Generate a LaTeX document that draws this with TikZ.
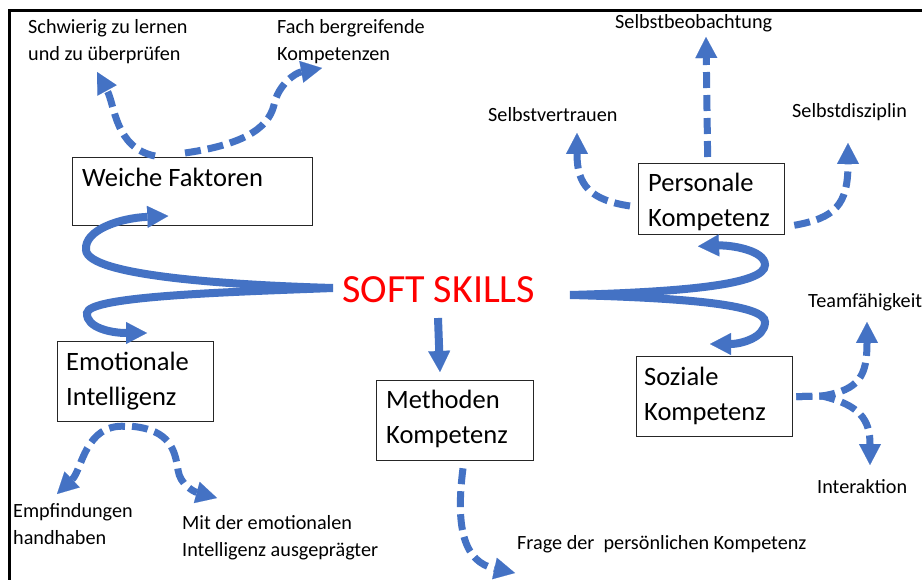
\documentclass[tikz,border=0pt]{standalone}
\usepackage{fontspec}
\setmainfont{Carlito}
\usetikzlibrary{arrows.meta}
\definecolor{skillblue}{RGB}{68,114,196}
\definecolor{skillred}{RGB}{255,0,0}

\begin{document}
\begin{tikzpicture}[x=1pt,y=-1pt,
  box/.style={draw=black!85, line width=1.3pt, anchor=north west, inner sep=0pt},
  boxtext/.style={anchor=base west, inner sep=0pt, font=\fontsize{26.5}{35}\selectfont, align=left},
  note/.style={anchor=base west, inner sep=0pt, font=\fontsize{20.2}{27}\selectfont, align=left},
  solidarrow/.style={draw=skillblue, line width=8pt,
    -{Triangle[length=21pt,width=22pt,line width=0.1pt]}},
  dasharrow/.style={draw=skillblue, line width=7pt, dash pattern=on 16pt off 7pt,
    -{Triangle[length=21pt,width=22pt,line width=0.1pt]}},
]
\useasboundingbox (0,0) rectangle (922,580);
\fill[white] (0,0) rectangle (922,580);

% outer frame (open to the right and bottom)
\draw[line width=3pt] (9.5,585) -- (9.5,11) -- (930,11);

% central title
\node[anchor=base west, inner sep=0pt, text=skillred, font=\fontsize{40}{44}\selectfont] (ss) at (342,303) {SOFT SKILLS};
\coordinate (ssL) at (333,288);
\coordinate (ssR) at (570,295);
\coordinate (ssD) at (438,318);

% boxes
\node[box, minimum width=240pt, minimum height=68pt] (wf) at (72,157) {};
\node[box, minimum width=146pt, minimum height=71pt] (pk) at (638,163) {};
\node[box, minimum width=156pt, minimum height=80pt] (ei) at (57,341) {};
\node[box, minimum width=157pt, minimum height=80pt] (mk) at (376,380) {};
\node[box, minimum width=156pt, minimum height=80pt] (sk) at (636,356) {};

% box captions (anchored at the baseline of their last line)
\node[boxtext] (wft) at (82,187) {Weiche Faktoren};
\node[boxtext] (pkt) at (648,227) {Personale\\Kompetenz};
\node[boxtext] (eit) at (66,405) {Emotionale\\Intelligenz};
\node[boxtext] (mkt) at (386,443) {Methoden\\Kompetenz};
\node[boxtext] (skt) at (644,420) {Soziale\\Kompetenz};

% outer labels
\node[note] (n1) at (28,61) {Schwierig zu lernen\\und zu überprüfen};
\node[note] (n2) at (277,61) {Fach bergreifende\\Kompetenzen};
\node[note] (n3) at (615,29) {Selbstbeobachtung};
\node[note] (n4) at (488,122) {Selbstvertrauen};
\node[note] (n5) at (792,118) {Selbstdisziplin};
\node[note] (n6) at (808,308) {Teamfähigkeit};
\node[note] (n7) at (817,493) {Interaktion};
\node[note] (n8) at (517,549) {Frage der~ persönlichen Kompetenz};
\node[note] (n9) at (13,544) {Empfindungen\\handhaben};
\node[note] (n10) at (182,556) {Mit der emotionalen\\Intelligenz ausgeprägter};

% arrow tip positions next to the labels
\coordinate (t1) at (97,72);
\coordinate (t2) at (322,68);
\coordinate (t3) at (706,37);
\coordinate (t4) at (577,133);
\coordinate (t5) at (848,143);
\coordinate (t6) at (867,322);
\coordinate (t7) at (870,465);
\coordinate (t8) at (515,573);
\coordinate (t9) at (57,494);
\coordinate (t10) at (217,498);
\coordinate (fork) at (822,396);

% solid arrows from the title to the five areas
\draw[solidarrow] (ssL) .. controls (230,285) and (88,276) .. (86,250)
  .. controls (84,230) and (120,218) .. ([xshift=-145pt,yshift=-59pt]wf.north east);
\draw[solidarrow] (ssL) .. controls (230,292) and (88,296) .. (87,313)
  .. controls (86,328) and (112,333) .. ([xshift=90pt,yshift=8pt]ei.north west);
\draw[solidarrow] (ssR) .. controls (680,292) and (765,285) .. (765,265)
  .. controls (765,250) and (730,245) .. ([xshift=60pt,yshift=-11pt]pk.south west);
\draw[solidarrow] (ssR) .. controls (690,298) and (765,305) .. (765,322)
  .. controls (765,338) and (740,344) .. ([xshift=74pt,yshift=12pt]sk.north west);
\draw[solidarrow] (ssD) -- ([xshift=64pt,yshift=8pt]mk.north west);

% dashed arrows to the details
\draw[dasharrow] ([xshift=83pt,yshift=1pt]wf.north west) .. controls (115,148) and (115,105) .. (t1);
\draw[dasharrow] ([xshift=113pt,yshift=4pt]wf.north west) .. controls (240,145) and (268,130) .. (274,105)
  .. controls (278,85) and (295,73) .. (t2);
\draw[dasharrow] ([xshift=-4pt,yshift=6pt]pk.north) -- (t3);
\draw[dasharrow] ([xshift=-8pt,yshift=-43pt]pk.north west) .. controls (590,200) and (577,185) .. (t4);
\draw[dasharrow] ([xshift=9pt,yshift=10pt]pk.south east) .. controls (835,218) and (848,205) .. (t5);
\draw[dasharrow] ([xshift=68pt,yshift=-4pt]ei.south west) .. controls (85,424) and (82,470) .. (t9);
\draw[dasharrow] ([xshift=75pt,yshift=-4pt]ei.south west) .. controls (170,430) and (175,450) .. (178,470)
  .. controls (180,485) and (195,492) .. (t10);
\draw[dasharrow] ([xshift=87pt,yshift=-7pt]mk.south west) .. controls (455,530) and (465,562) .. (t8);
\draw[dasharrow] ([xshift=3pt]sk.east) -- (fork) .. controls (860,390) and (867,375) .. (t6);
\draw[dasharrow] ([xshift=3pt]sk.east) -- (fork) .. controls (860,405) and (870,420) .. (t7);
\end{tikzpicture}
\end{document}
